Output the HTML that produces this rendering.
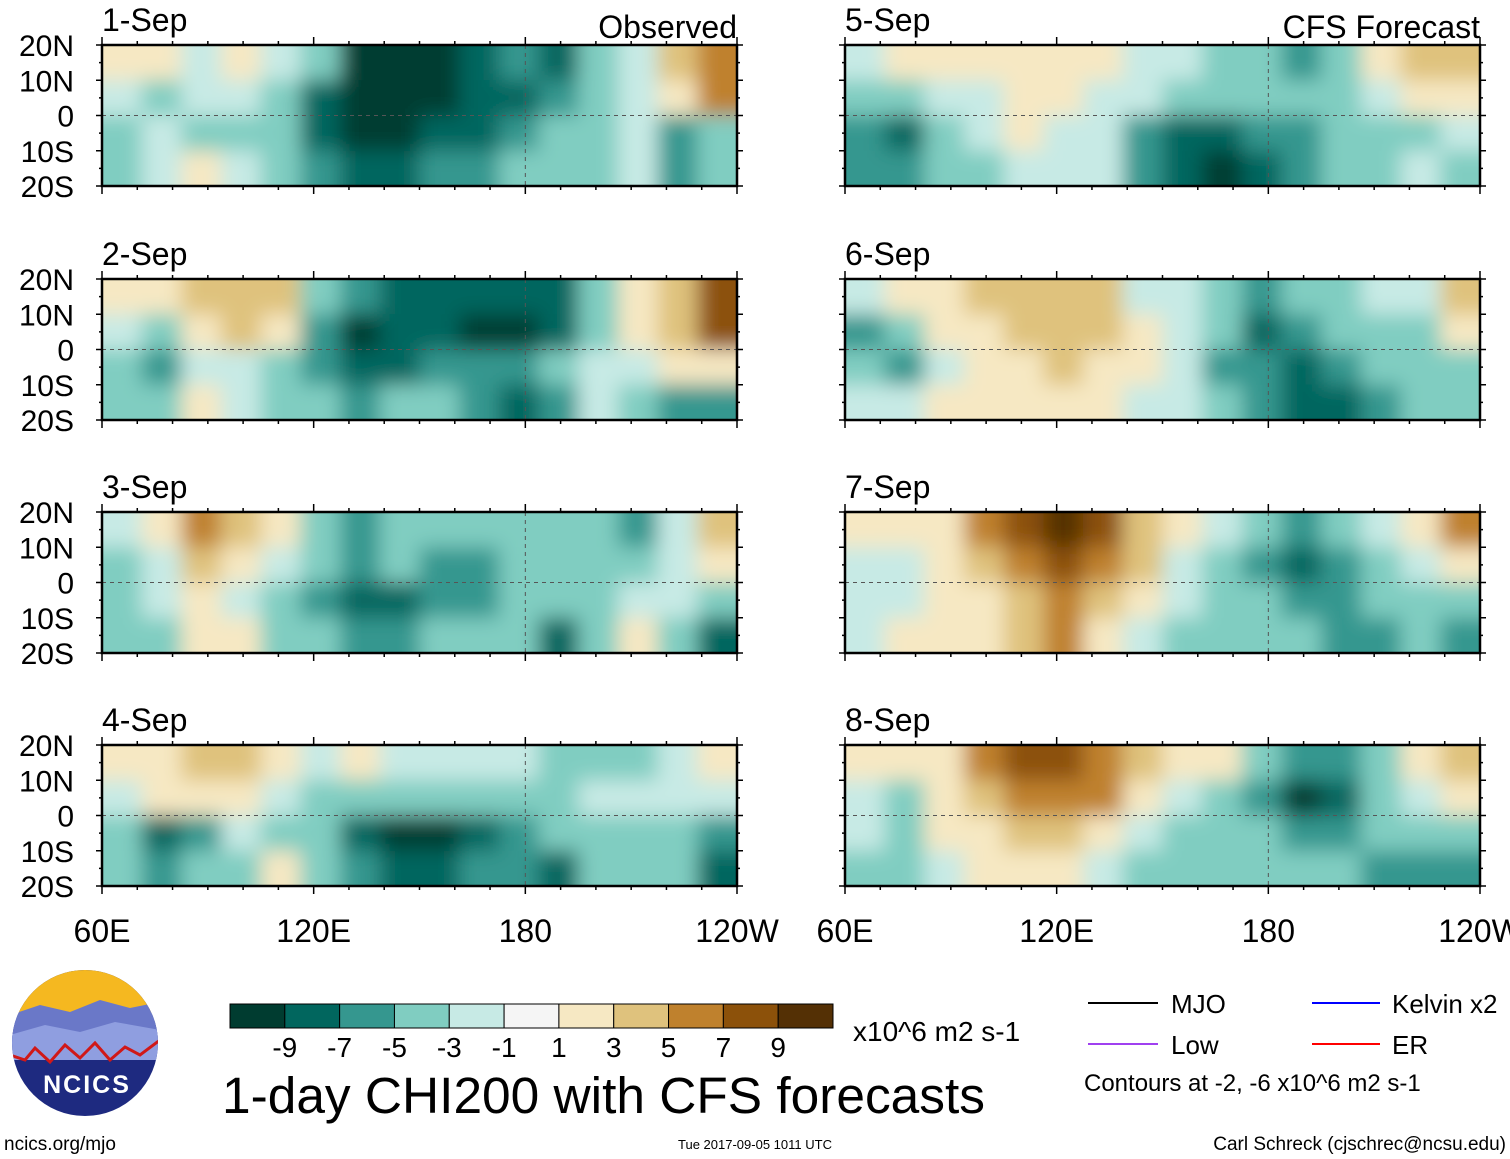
<!DOCTYPE html>
<html><head><meta charset="utf-8"><style>
html,body{margin:0;padding:0;background:#fff;}
svg{display:block;font-family:"Liberation Sans",sans-serif;}
</style></head><body>
<svg id="chart" width="1510" height="1159" viewBox="0 0 1510 1159" xmlns="http://www.w3.org/2000/svg">
<defs>
<filter id="blur" x="-20%" y="-20%" width="140%" height="140%"><feGaussianBlur stdDeviation="10"/></filter>
</defs>
<g id="panels"></g>
<g id="legend">
  <g id="colorbar"></g>
  <text x="853" y="1041" font-size="28">x10^6 m2 s-1</text>
  <text x="222" y="1113" font-size="51" textLength="763" lengthAdjust="spacingAndGlyphs">1-day CHI200 with CFS forecasts</text>
  <line x1="1088" y1="1003" x2="1158" y2="1003" stroke="#000" stroke-width="2"/>
  <text x="1171" y="1013" font-size="26">MJO</text>
  <line x1="1312" y1="1003" x2="1380" y2="1003" stroke="#0000ff" stroke-width="2"/>
  <text x="1392" y="1013" font-size="26">Kelvin x2</text>
  <line x1="1088" y1="1044" x2="1158" y2="1044" stroke="#a040f0" stroke-width="2"/>
  <text x="1171" y="1054" font-size="26">Low</text>
  <line x1="1312" y1="1044" x2="1380" y2="1044" stroke="#ff0000" stroke-width="2"/>
  <text x="1392" y="1054" font-size="26">ER</text>
  <text x="1084" y="1091" font-size="24">Contours at -2, -6 x10^6 m2 s-1</text>
</g>
<g id="logo">
  <clipPath id="logoclip"><circle cx="85" cy="1043" r="73"/></clipPath>
  <g clip-path="url(#logoclip)">
    <rect x="10" y="968" width="150" height="150" fill="#1e2a80"/>
    <rect x="10" y="968" width="150" height="45" fill="#f5b820"/>
    <path d="M10 1015 L40 1005 L70 1012 L100 1000 L130 1008 L160 1002 L160 1040 L10 1040Z" fill="#6a78c8"/>
    <path d="M10 1035 L45 1025 L80 1032 L115 1022 L160 1030 L160 1060 L10 1060Z" fill="#8f9ee0"/>
    <path d="M10 1055 L25 1060 L35 1048 L50 1062 L65 1045 L80 1058 L95 1043 L110 1060 L125 1047 L140 1055 L160 1040" fill="none" stroke="#d01818" stroke-width="3"/>
  </g>
  <text x="87" y="1093" font-size="25" font-weight="bold" fill="#fff" text-anchor="middle" letter-spacing="2">NCICS</text>
</g>
<text x="4" y="1150" font-size="19">ncics.org/mjo</text>
<text x="755" y="1149" font-size="13" text-anchor="middle">Tue 2017-09-05 1011 UTC</text>
<text x="1506" y="1150" font-size="19" text-anchor="end">Carl Schreck (cjschrec@ncsu.edu)</text>
</svg>
<script>
const colorLevels=["#003c30","#01665e","#35978f","#80cdc1","#c7eae5","#f5f5f5","#f6e8c3","#dfc27d","#bf812d","#8c510a","#543005"];
const colorTicks=["-9","-7","-5","-3","-1","1","3","5","7","9"];
const panelTitles=["1-Sep","2-Sep","3-Sep","4-Sep","5-Sep","6-Sep","7-Sep","8-Sep"];
const latLabels=["20N","10N","0","10S","20S"];
const lonLabels=["60E","120E","180","120W"];
const lonTicks=[60,120,180,240];
const p1=[[1,1,-1,1,-1,-3,-9,-9,-9,-7,-5,-7,-3,-1,3,5],[-1,-3,-1,-1,-3,-7,-9,-9,-9,-7,-7,-5,-3,-1,1,5],[-3,-1,-3,-3,-3,-7,-9,-9,-7,-7,-5,-3,-3,-1,-5,-3],[-3,-1,1,-1,-3,-5,-7,-7,-5,-5,-3,-3,-3,-1,-5,-3]];
const p2=[[1,1,3,3,3,-3,-5,-7,-7,-7,-7,-7,-3,1,3,7],[-1,-3,1,3,1,-5,-9,-7,-7,-9,-9,-7,-3,1,3,7],[-3,-5,-1,-1,-3,-5,-7,-7,-5,-5,-5,-3,-1,-1,1,1],[-3,-3,1,-1,-3,-3,-5,-3,-3,-5,-7,-5,-1,-3,-5,-5]];
const p3=[[-1,1,5,3,1,-3,-5,-3,-3,-3,-3,-3,-3,-5,-1,3],[-3,-1,3,1,-1,-3,-5,-3,-5,-5,-3,-3,-3,-3,-1,1],[-3,-1,1,-1,-3,-5,-7,-7,-5,-5,-3,-3,-3,-1,-1,-3],[-3,-3,1,1,-3,-3,-5,-5,-3,-3,-3,-7,-3,1,-3,-7]];
const p4=[[1,1,3,3,1,-1,1,-1,-1,-1,-1,-3,-3,-3,-1,1],[-1,1,1,1,-1,-3,-3,-3,-3,-3,-3,-3,-1,-1,-1,-1],[-3,-7,-5,-1,-3,-3,-7,-9,-9,-7,-5,-3,-3,-3,-3,-5],[-3,-5,-3,-3,1,-3,-5,-7,-7,-5,-5,-7,-3,-3,-3,-7]];
const p5=[[-1,1,1,1,1,1,1,-1,-1,-3,-3,-5,-3,1,3,3],[-3,-3,-1,-1,1,1,-1,-1,-3,-3,-3,-3,-3,-1,1,1],[-5,-7,-3,-1,1,-1,-1,-5,-7,-7,-5,-5,-3,-3,-3,-1],[-5,-5,-3,-3,-1,-1,-1,-5,-7,-9,-7,-5,-3,-3,-1,-3]];
const p6=[[-1,1,1,3,3,3,3,-1,-1,-3,-5,-3,-3,-1,-1,3],[-5,-3,1,1,3,3,3,1,-1,-3,-7,-5,-3,-3,-3,1],[-3,-5,-1,1,1,3,1,1,-1,-5,-5,-7,-5,-3,-3,-3],[-1,-1,1,1,1,1,1,-1,-1,-3,-5,-7,-7,-5,-3,-3]];
const p7=[[1,1,1,5,7,9,7,3,1,-1,-3,-5,-3,-1,1,5],[-1,-1,1,3,5,7,5,3,-1,-3,-5,-7,-5,-3,-1,1],[-1,-1,1,1,3,5,3,1,-1,-3,-3,-5,-5,-3,-3,-3],[-1,1,1,1,3,5,1,-1,-3,-3,-3,-3,-5,-5,-3,-5]];
const p8=[[1,1,1,5,7,7,5,3,1,1,-3,-5,-5,-3,1,3],[-1,-3,1,3,5,5,5,1,-1,-3,-5,-9,-7,-3,-1,1],[-1,-3,1,1,3,3,1,-1,-3,-3,-3,-5,-5,-3,-3,-3],[-3,-3,-1,1,1,1,-1,-3,-3,-3,-3,-3,-3,-5,-5,-5]];
const grids=[p1,p2,p3,p4,p5,p6,p7,p8];

const NS="http://www.w3.org/2000/svg";
const svg=document.getElementById('chart');
const panelsG=document.getElementById('panels');
function mk(tag,attrs,parent){const e=document.createElementNS(NS,tag);for(const k in attrs)e.setAttribute(k,attrs[k]);(parent||svg).appendChild(e);return e;}
function colorFor(v){let i=v<0?Math.round((v+9)/2):(v>0?Math.round((v+11)/2):5);i=Math.max(0,Math.min(10,i));return colorLevels[i];}
const PW=635,PH=141,lefts=[102,845],tops=[45,279,512,745];
function xScale(x0,lon){return x0+(lon-60)/180*PW;}
function yScale(y0,lat){return y0+(20-lat)/40*PH;}

grids.forEach((g,p)=>{
  const x0=lefts[Math.floor(p/4)],y0=tops[p%4];
  const pg=mk('g',{},panelsG);
  
  
  const cid='clip'+p;
  const cp=mk('clipPath',{id:cid},pg);mk('rect',{x:x0,y:y0,width:PW,height:PH},cp);
  const cg=mk('g',{'clip-path':'url(#'+cid+')'},pg);
  mk('rect',{x:x0,y:y0,width:PW,height:PH,fill:'#f5f5f5'},cg);
  const fg=mk('g',{filter:'url(#blur)'},cg);
  const rows=g.length,cols=g[0].length;
  const cw=PW/cols,ch=PH/rows;
  g.forEach((row,r)=>row.forEach((v,c)=>{
    let x=x0+c*cw,y=y0+r*ch,w=cw+1,h=ch+1;
    if(c===0){x-=40;w+=40;} if(c===cols-1){w+=40;}
    if(r===0){y-=40;h+=40;} if(r===rows-1){h+=40;}
    const cell=mk('rect',{x:x,y:y,width:w,height:h,fill:colorFor(v)},fg);
    
    
  }));
  mk('line',{x1:x0,y1:yScale(y0,0),x2:x0+PW,y2:yScale(y0,0),stroke:'#555','stroke-width':1,'stroke-dasharray':'4,4'},cg);
  mk('line',{x1:xScale(x0,180),y1:y0,x2:xScale(x0,180),y2:y0+PH,stroke:'#555','stroke-width':1,'stroke-dasharray':'4,4'},cg);
  const fr=mk('rect',{x:x0,y:y0,width:PW,height:PH,fill:'none',stroke:'#000','stroke-width':2.5},pg);
  
  
  for(let lon=60;lon<=240;lon+=10){
    const x=xScale(x0,lon),L=(lon%60===0)?8:4;
    mk('line',{x1:x,y1:y0-L,x2:x,y2:y0,stroke:'#000','stroke-width':1.5},pg);
    mk('line',{x1:x,y1:y0+PH,x2:x,y2:y0+PH+L,stroke:'#000','stroke-width':1.5},pg);
  }
  for(let lat=-20;lat<=20;lat+=5){
    const y=yScale(y0,lat),L=(lat%10===0)?6:3;
    mk('line',{x1:x0-L,y1:y,x2:x0,y2:y,stroke:'#000','stroke-width':1.5},pg);
    mk('line',{x1:x0+PW,y1:y,x2:x0+PW+L,y2:y,stroke:'#000','stroke-width':1.5},pg);
  }
  const t=mk('text',{x:x0,y:y0-14,'font-size':32},pg);t.textContent=panelTitles[p];
  
  
  if(p%4===0){
    const s=mk('text',{x:x0+PW,y:y0-7,'font-size':32,'text-anchor':'end'},pg);s.textContent=p===0?'Observed':'CFS Forecast';
    
    
  }
  if(p<4){
    latLabels.forEach((lab,i)=>{
      const tl=mk('text',{x:x0-28,y:yScale(y0,20-i*10)+11,'font-size':30,'text-anchor':'end'},pg);
      tl.textContent=lab;
      
      
    });
  }
  if(p%4===3){
    lonTicks.forEach((lon,i)=>{
      const tl=mk('text',{x:xScale(x0,lon),y:942,'font-size':32,'text-anchor':'middle'},pg);
      tl.textContent=lonLabels[i];
      
      
    });
  }
});

const cb=document.getElementById('colorbar');
const cbx=230,cby=1004,cbw=603,cbh=24,bw=cbw/colorLevels.length;
colorLevels.forEach((c,i)=>{
  const r=mk('rect',{x:cbx+i*bw,y:cby,width:bw,height:cbh,fill:c,stroke:'#000','stroke-width':1},cb);
  
  
});
colorTicks.forEach((t,i)=>{
  const tx=mk('text',{x:cbx+(i+1)*bw,y:1057,'font-size':28,'text-anchor':'middle'},cb);
  tx.textContent=t;
  
  
});
</script>
</body></html>
